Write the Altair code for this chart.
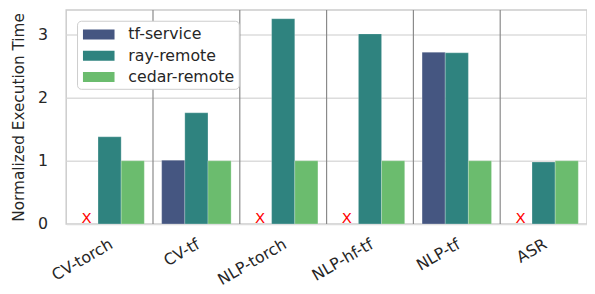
import altair as alt
import pandas as pd

categories = ["CV-torch", "CV-tf", "NLP-torch", "NLP-hf-tf", "NLP-tf", "ASR"]
series = ["tf-service", "ray-remote", "cedar-remote"]
tf_service = [None, 1.01, None, None, 2.72, None]
ray_remote = [1.38, 1.76, 3.25, 3.01, 2.71, 0.98]
cedar_remote = [1.0, 1.0, 1.0, 1.0, 1.0, 1.0]
colors = ["#455681", "#2f837f", "#6bbc6e"]

rows = []
missing = []
for i, c in enumerate(categories):
    for s, vals in zip(series, [tf_service, ray_remote, cedar_remote]):
        v = vals[i]
        if v is None:
            missing.append({"category": c, "series": s, "value": 0.0})
        else:
            rows.append({"category": c, "series": s, "value": v})
bars_df = pd.DataFrame(rows)
miss_df = pd.DataFrame(missing)
sep_df = pd.DataFrame({"category": categories[1:]})

FONT = "DejaVu Sans"
FS = 16
xscale = alt.Scale(domain=categories, paddingInner=0, paddingOuter=0)
xoff = alt.XOffset("series:N", scale=alt.Scale(domain=series, paddingInner=0, paddingOuter=0.375))
yscale = alt.Scale(domain=[0, 3.39], nice=False)
xaxis = alt.Axis(title=None, labelAngle=-30, labelAlign="right", labelBaseline="top",
                 labelPadding=12, labelOffset=-2, ticks=False, domain=False, grid=False,
                 labelFontSize=FS, labelColor="#262626", labelFont=FONT)
yaxis = alt.Axis(title="Normalized Execution Time", values=[0, 1, 2, 3], ticks=False,
                 domain=False, grid=True, gridColor="#dcdcdc", gridWidth=1.5,
                 labelFontSize=FS, labelColor="#262626", labelFont=FONT, labelPadding=19,
                 titleFontSize=15.5, titleFont=FONT, titleColor="#262626",
                 titleFontWeight="normal", titlePadding=11)

bars = alt.Chart(bars_df).mark_bar(stroke="white", strokeWidth=0.4, strokeOpacity=0.6).encode(
    x=alt.X("category:N", scale=xscale, axis=xaxis, sort=categories),
    xOffset=xoff,
    y=alt.Y("value:Q", scale=yscale, axis=yaxis),
    color=alt.Color("series:N", scale=alt.Scale(domain=series, range=colors),
                    legend=alt.Legend(title=None, orient="none", legendX=11, legendY=11,
                                      fillColor="white", strokeColor="#cccccc",
                                      cornerRadius=4, padding=4, rowPadding=3.5,
                                      symbolType="M-1.6,-0.5H1.6V0.5H-1.6Z", symbolSize=400,
                                      symbolStrokeWidth=0, symbolOffset=8, labelOffset=20,
                                      labelFontSize=FS, labelFont=FONT, labelColor="#262626")),
)

marks = alt.Chart(miss_df).mark_text(text="X", color="red", fontSize=15, font=FONT,
                                      baseline="alphabetic", dy=-1).encode(
    x=alt.X("category:N", scale=xscale, axis=xaxis, sort=categories),
    xOffset=xoff,
    y=alt.Y("value:Q", scale=yscale, axis=yaxis),
)

seps = alt.Chart(sep_df).mark_rule(color="#8a8a8a", strokeWidth=1.2).encode(
    x=alt.X("category:N", scale=xscale, axis=xaxis, sort=categories, bandPosition=0),
)

chart = alt.layer(seps, bars, marks).properties(
    width=528, height=217,
    autosize=alt.AutoSizeParams(type="none"),
    padding={"left": 59, "top": 0, "right": 0, "bottom": 61},
).configure_view(stroke="#cccccc", strokeWidth=1.5)

chart.save("out.html", embed_options={"renderer": "svg", "actions": False})
